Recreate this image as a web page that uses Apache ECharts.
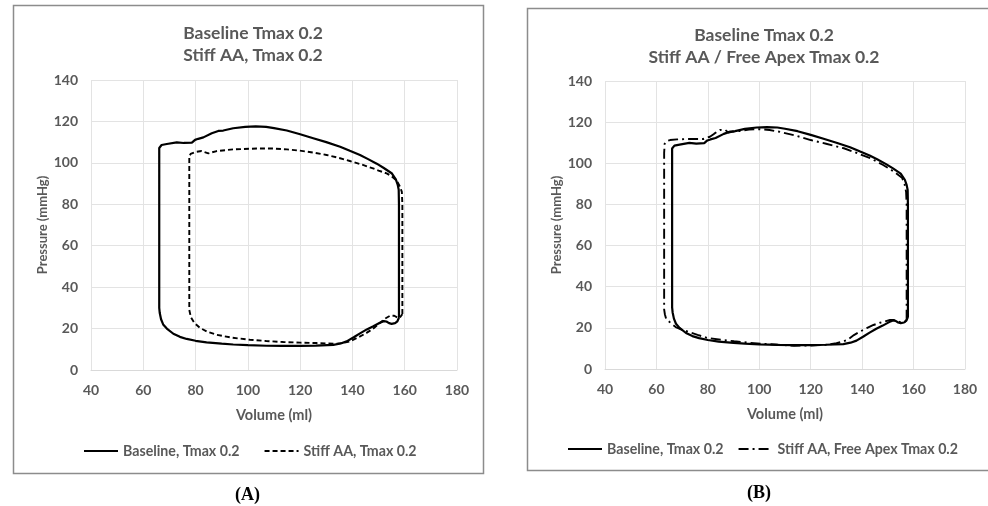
<!DOCTYPE html>
<html>
<head>
<meta charset="utf-8">
<script src="https://cdn.jsdelivr.net/npm/echarts@6/dist/echarts.min.js"></script>
<style>
html,body{margin:0;padding:0;background:#fff;}
#chart{width:988px;height:506px;}
</style>
</head>
<body>
<div id="chart"></div>
<script>
// ---- data (Volume ml, Pressure mmHg) ----
var xTicks = [40, 60, 80, 100, 120, 140, 160, 180];
var yTicks = [0, 20, 40, 60, 80, 100, 120, 140];

var titleA = 'Baseline Tmax 0.2\nStiff AA, Tmax 0.2';
var titleB = 'Baseline Tmax 0.2\nStiff AA / Free Apex Tmax 0.2';
var nameBaseline = 'Baseline, Tmax 0.2';
var nameStiff = 'Stiff AA, Tmax 0.2';
var nameFreeApex = 'Stiff AA, Free Apex Tmax 0.2';

var baseline = [
[157.8,25.2],[157.8,40],[157.8,60],[157.8,80],[157.7,87],[157.3,89.5],[156.6,92],[155,95],[152,97.5],[149.3,99.6],
[146,101.8],[142.9,103.8],[139,105.8],[135.3,107.8],[130,110],[125,111.9],[120,113.8],[114.9,115.6],[110,116.8],
[107,117.4],[103,117.6],[99,117.4],[94.4,116.7],[90.6,115.6],[88.7,115.4],[86.2,114.3],[83,112.3],[81,111.6],
[79.8,111.1],[78.6,109.8],[77.9,109.4],[75.5,109.6],[72.8,109.9],[69,109.1],[67,108.6],[66.4,108.3],[66.1,107.2],
[66.1,90],[66.1,60],[66.1,40],[66.1,30],[66.3,27.5],[66.8,24.5],[67.6,22],[69,20],[71.5,17.5],[74,16],[76.6,15],
[80,14.1],[84.2,13.3],[90,12.7],[94.4,12.3],[100,12],[107.2,11.7],[113,11.6],[119.9,11.6],[126,11.8],[132.7,12.1],
[135.5,12.8],[137.8,13.8],[140.5,15.8],[142.9,17.7],[145.5,19.6],[148,21.1],[150.5,22.8],[152,23.6],[153,23.4],
[154,22.6],[155,22.3],[156.3,22.6],[157.2,23.5],[157.8,25.2]
];

var stiffAA = [
[159.1,27],[159.1,40],[159.1,60],[159.1,80],[158.9,86],[158.2,88.5],[156.9,91.5],[155,93.5],[153.1,94.9],[150,96.3],
[147.9,97.3],[143.5,99.2],[139,100.9],[134.5,102.5],[130.1,103.8],[125,105],[119.9,105.9],[115,106.5],[109.7,106.9],
[103.4,106.9],[100.8,106.8],[94.4,106.5],[88.1,105.7],[84.9,104.6],[82.3,105.7],[79.8,105.2],[78.1,104.3],[77.6,103.3],
[77.6,90],[77.6,60],[77.6,40],[77.6,29],[78.2,25.5],[79.5,22.8],[81.7,20.3],[84.5,18.5],[88,17],[94,15.6],[100.8,14.6],
[107,14],[113.6,13.5],[120,13.2],[126.4,13],[134,12.7],[136.5,13.1],[139,13.8],[142,15.6],[145.4,17.9],[148,20],
[150.5,22.7],[152.5,24.8],[154.4,26.2],[156,26.2],[157.3,25.3],[158.3,25.6],[159.1,27]
];

var freeApex = [
[157.3,24],[157.3,40],[157.3,60],[157.3,80],[157.1,86],[156.5,90],[155.5,93],[152.4,95.9],[148,99.3],[143.3,102.4],
[138,105],[132.9,107.3],[126,109.5],[120,111.3],[114,113.5],[108.3,115.2],[104,116.2],[100,116.6],[96,116.4],
[92.5,115.7],[89.5,115.3],[88,114.9],[86.7,116.3],[84.7,116.2],[82.5,114.4],[80.8,112.9],[78.2,111.8],[75,111.8],
[71.8,111.8],[68,111.6],[65.3,111.3],[63.8,110.7],[63.2,109.5],[63,105],[63,80],[63,60],[63,40],[63,29],[63.3,26.5],
[63.8,24.3],[65.5,22.4],[67.5,20.4],[70,19],[72,18.3],[76,16.6],[79.8,15.1],[85,14.2],[90.2,13.5],[95,12.9],
[100.5,12.3],[107,11.8],[113.5,11.3],[120,11.4],[126.5,11.8],[130,12.5],[132.9,13.5],[134.5,14.3],[136.8,16.5],
[139.2,18.2],[142,20],[144.4,21.4],[147,22.5],[150.8,23.8],[152.2,23.8],[153.4,23.5],[155.4,22.5],[156.5,22.8],[157.3,24]
];

// ---- chart ----
var FONT = 'Lato';
var GRAY = '#595959';
var chart = echarts.init(document.getElementById('chart'), null, {renderer: 'canvas'});

function xAxisDef(gi) {
  return {
    type: 'value', gridIndex: gi,
    min: xTicks[0], max: xTicks[xTicks.length - 1], interval: xTicks[1] - xTicks[0],
    name: 'Volume (ml)', nameLocation: 'middle', nameGap: 38,
    nameTextStyle: {color: GRAY, fontFamily: FONT, fontWeight: 'bold', fontSize: 14.5},
    axisLine: {show: true, lineStyle: {color: '#d9d9d9', width: 1}},
    axisTick: {show: false},
    axisLabel: {color: GRAY, fontFamily: FONT, fontWeight: 'bold', fontSize: 14, margin: 13},
    splitLine: {show: true, lineStyle: {color: '#e3e3e3', width: 1}}
  };
}
function yAxisDef(gi) {
  return {
    type: 'value', gridIndex: gi,
    min: yTicks[0], max: yTicks[yTicks.length - 1], interval: yTicks[1] - yTicks[0],
    name: 'Pressure (mmHg)', nameLocation: 'middle', nameGap: 42, nameRotate: 90,
    nameTextStyle: {color: GRAY, fontFamily: FONT, fontWeight: 'bold', fontSize: 13},
    axisLine: {show: false},
    axisTick: {show: false},
    axisLabel: {color: GRAY, fontFamily: FONT, fontWeight: 'bold', fontSize: 14, margin: 13},
    splitLine: {show: true, lineStyle: {color: '#e3e3e3', width: 1}}
  };
}
function lineSeries(name, data, gi, type, width) {
  return {
    name: name, type: 'line', xAxisIndex: gi, yAxisIndex: gi,
    data: data, symbol: 'none', smooth: false, animation: false,
    color: '#000',
    lineStyle: {color: '#000', width: width, type: type}
  };
}

var legendText = {color: GRAY, fontFamily: FONT, fontWeight: 'bold', fontSize: 14.2};

var option = {
  backgroundColor: '#fff',
  animation: false,
  title: [
    {text: titleA, left: 248, top: 17, textAlign: 'center',
     textStyle: {color: GRAY, fontFamily: FONT, fontWeight: 'bold', fontSize: 17.5, lineHeight: 22}},
    {text: titleB, left: 759, top: 19, textAlign: 'center',
     textStyle: {color: GRAY, fontFamily: FONT, fontWeight: 'bold', fontSize: 17.5, lineHeight: 22}}
  ],
  grid: [
    {left: 91, right: 531, top: 80, bottom: 136},
    {left: 605, right: 23, top: 81, bottom: 137}
  ],
  xAxis: [xAxisDef(0), xAxisDef(1)],
  yAxis: [yAxisDef(0), yAxisDef(1)],
  legend: [
    {data: [nameBaseline, nameStiff], left: 78, top: 439, itemWidth: 34, itemHeight: 14, itemGap: 24,
     itemStyle: {opacity: 0}, textStyle: legendText, selectedMode: false},
    {data: [nameBaseline, nameFreeApex], left: 562, top: 437, itemWidth: 34, itemHeight: 14, itemGap: 14,
     itemStyle: {opacity: 0}, textStyle: legendText, selectedMode: false}
  ],
  series: [
    lineSeries(nameBaseline, baseline, 0, 'solid', 2.2),
    lineSeries(nameStiff, stiffAA, 0, [5, 3], 1.9),
    lineSeries(nameBaseline, baseline, 1, 'solid', 2.2),
    lineSeries(nameFreeApex, freeApex, 1, [10, 4, 2, 4], 1.9)
  ],
  graphic: [
    {type: 'rect', shape: {x: 13.5, y: 5.5, width: 470, height: 468}, silent: true,
     style: {fill: 'none', stroke: '#8c8c8c', lineWidth: 1.5}},
    {type: 'rect', shape: {x: 527.5, y: 8.5, width: 480, height: 462}, silent: true,
     style: {fill: 'none', stroke: '#8c8c8c', lineWidth: 1.5}},
    {type: 'text', left: 235, top: 486, silent: true,
     style: {text: '(A)', fill: '#000', font: 'bold 18px "Liberation Serif"'}},
    {type: 'text', left: 747, top: 484, silent: true,
     style: {text: '(B)', fill: '#000', font: 'bold 18px "Liberation Serif"'}}
  ]
};
chart.setOption(option);
</script>
</body>
</html>
